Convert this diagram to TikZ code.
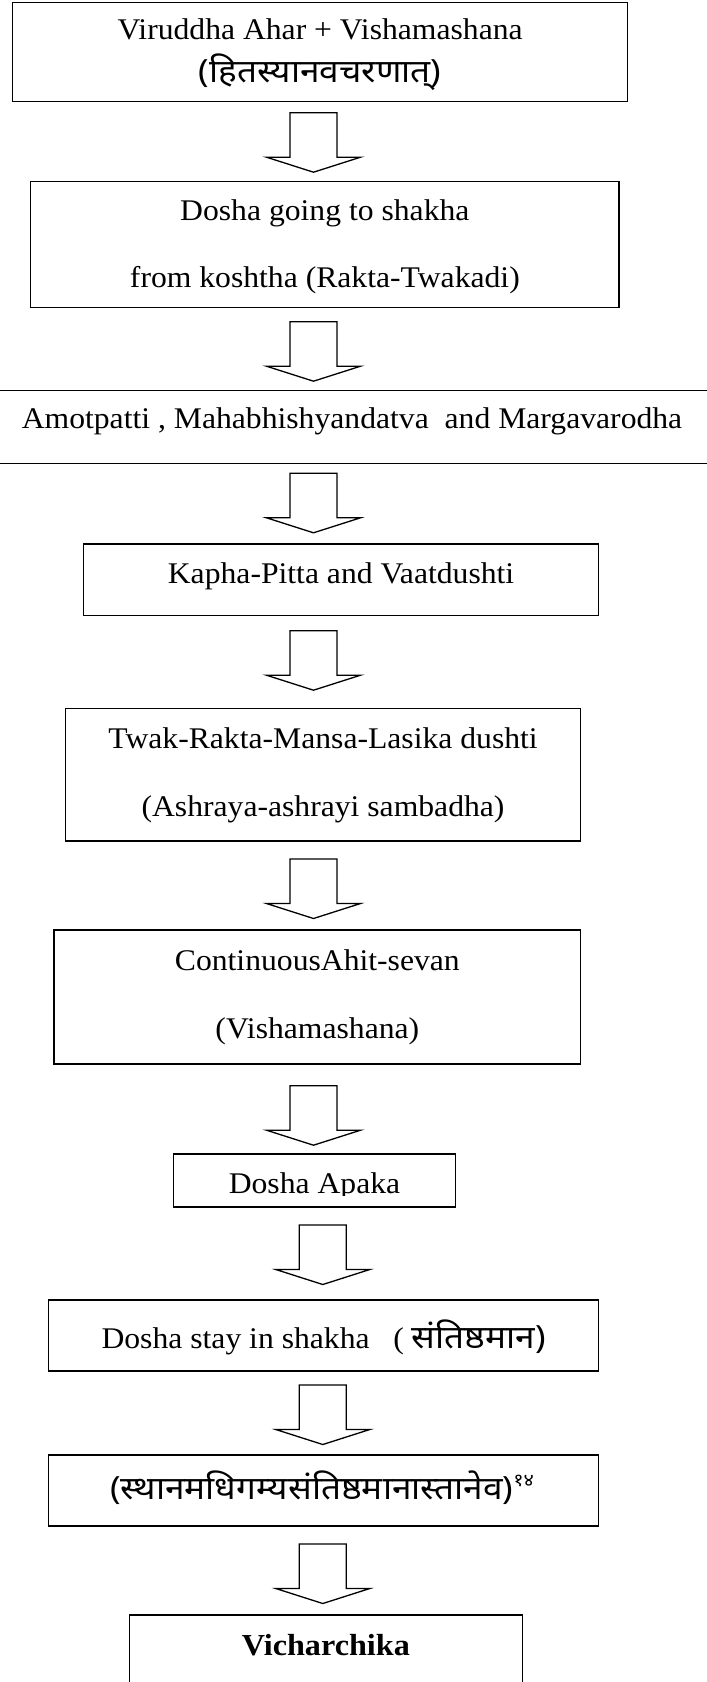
\documentclass[tikz,border=0pt]{standalone}
\usepackage{fontspec}
\setmainfont{Liberation Serif}[FakeStretch=1.055]
\newfontfamily\deva[Script=Devanagari, FakeStretch=1.1]{Noto Sans}
\begin{document}
\begin{tikzpicture}[x=1pt,y=-1pt,
  box/.style={draw, line width=1.5pt, inner sep=0pt, rectangle},
  txt/.style={inner sep=0pt, anchor=base, font=\fontsize{30}{36}\selectfont},
  dtxt/.style={inner sep=0pt, anchor=base, font=\deva\fontsize{32}{38}\selectfont},
  blockarrow/.pic={\draw[line width=1.3pt, line join=miter]
      (-23.5,0) -- (-23.5,44.5) -- (-47,44.5) -- (0,59.5) -- (47,44.5)
      -- (23.5,44.5) -- (23.5,0) -- cycle;}
]
\clip (0,0) rectangle (707,1682);
\fill[white] (0,0) rectangle (707,1682);

% boxes
\node[box, minimum width=615pt,   minimum height=99pt]    (b1) at (320.1,52) {};
\node[box, minimum width=588.3pt, minimum height=126pt]   (b2) at (324.85,244.7) {};
\node[box, minimum width=717pt,   minimum height=72.6pt]  (b3) at (353.5,427) {};
\node[box, minimum width=515.3pt, minimum height=71.7pt]  (b4) at (341.05,579.85) {};
\node[box, minimum width=515.3pt, minimum height=132.3pt] (b5) at (323.05,774.85) {};
\node[box, minimum width=526.7pt, minimum height=134pt]   (b6) at (317.35,997) {};
\node[box, minimum width=281.8pt, minimum height=53pt]    (b7) at (314.5,1180.5) {};
\node[box, minimum width=550pt,   minimum height=71pt]    (b8) at (323.7,1335.5) {};
\node[box, minimum width=550pt,   minimum height=71pt]    (b9) at (323.7,1490.5) {};
\node[box, minimum width=392.9pt, minimum height=85pt]    (b10) at (325.85,1657.5) {};

% texts
\node[txt]  (t1a) at (320.1,39.3) {Viruddha Ahar + Vishamashana};
\node[dtxt] (t1b) at (320.1,82) {(हितस्यानवचरणात्)};
\node[txt]  (t2a) at (324.85,220.7) {Dosha going to shakha};
\node[txt]  (t2b) at (324.85,287.3) {from koshtha (Rakta-Twakadi)};
\node[txt]  (t3)  at (352,428) {Amotpatti , Mahabhishyandatva\ \ and Margavarodha};
\node[txt]  (t4)  at (341.05,583.3) {Kapha-Pitta and Vaatdushti};
\node[txt]  (t5a) at (323.05,748.3) {Twak-Rakta-Mansa-Lasika dushti};
\node[txt]  (t5b) at (323.05,816) {(Ashraya-ashrayi sambadha)};
\node[txt]  (t6a) at (317.35,970) {ContinuousAhit-sevan};
\node[txt]  (t6b) at (317.35,1038) {(Vishamashana)};
\begin{scope}
  \clip (b7.north west) rectangle ([yshift=12pt]b7.south east);
  \node[txt] (t7) at (314.5,1193.5) {Dosha Apaka};
\end{scope}
\node[txt]  (t8)  at (323.7,1348.3) {Dosha stay in shakha\ \ \ ( {\deva\fontsize{32}{38}\selectfont संतिष्ठमान)}};
\node[dtxt] (t9)  at (322,1499) {(स्थानमधिगम्यसंतिष्ठमानास्तानेव)\raisebox{13pt}{\fontsize{18}{18}\selectfont १४}};
\node[txt, font=\fontsize{30.5}{36}\selectfont\bfseries] (t10) at (325.85,1655.5) {Vicharchika};

% block arrows between the steps
\coordinate (a1) at (313.5,112.7);
\coordinate (a2) at (313.5,321.7);
\coordinate (a3) at (313.5,473.3);
\coordinate (a4) at (313.5,630.7);
\coordinate (a5) at (313.5,859);
\coordinate (a6) at (313.5,1085.7);
\coordinate (a7) at (322.8,1225);
\coordinate (a8) at (322.8,1385);
\coordinate (a9) at (322.8,1544);
\foreach \a in {a1,a2,a3,a4,a5,a6,a7,a8,a9}
  \pic at (\a) {blockarrow};
\end{tikzpicture}
\end{document}
